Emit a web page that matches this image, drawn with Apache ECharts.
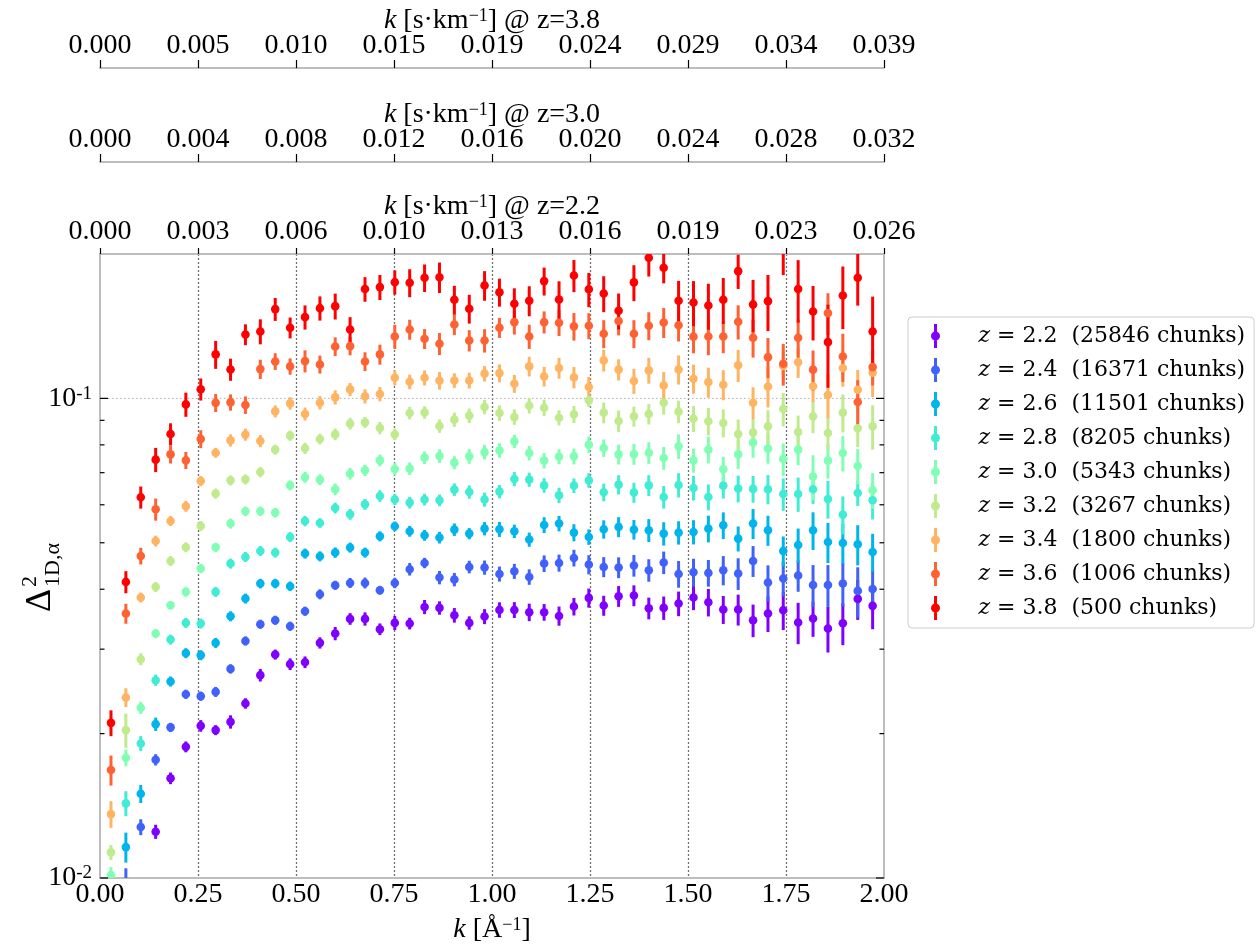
<!DOCTYPE html>
<html>
<head>
<meta charset="utf-8">
<script src="https://cdn.jsdelivr.net/npm/echarts@6/dist/echarts.min.js"></script>
<style>
html,body{margin:0;padding:0;background:#ffffff;}
#chart{width:1256px;height:946px;}
</style>
</head>
<body>
<div id="chart"></div>
<script>
// ---------------- data ----------------
const K = [0.028,0.066,0.104,0.142,0.180,0.219,0.257,0.295,0.333,0.371,0.409,0.447,0.485,0.523,0.561,0.600,0.638,0.676,0.714,0.752,0.790,0.828,0.866,0.904,0.942,0.981,1.019,1.057,1.095,1.133,1.171,1.209,1.247,1.285,1.323,1.362,1.400,1.438,1.476,1.514,1.552,1.590,1.628,1.666,1.704,1.743,1.781,1.819,1.857,1.895,1.933,1.971];

const Z_VALUES = ['2.2','2.4','2.6','2.8','3.0','3.2','3.4','3.6','3.8'];
const CHUNKS = [25846,16371,11501,8205,5343,3267,1800,1006,500];
const COLORS = ['#8000ff','#4062fa','#00b4ec','#40ecd4','#80ffb4','#c0eb8d','#ffb462','#ff6232','#ff0000'];

const P22 = [null,null,null,0.01249,0.01614,0.01877,0.02076,0.02034,0.02116,0.02312,0.02648,0.02924,0.02792,0.02818,0.03092,0.03234,0.03469,0.03469,0.03302,0.03403,0.03393,0.03674,0.03657,0.03531,0.03403,0.03509,0.03622,0.03622,0.03582,0.03582,0.03519,0.03681,0.03837,0.03699,0.03868,0.03881,0.03652,0.03657,0.03735,0.03845,0.03758,0.03629,0.03629,0.03447,0.0356,0.03617,0.0341,0.03475,0.03313,0.03398,0.03819,0.03693];
const E22 = [null,null,null,0.034,0.028,0.026,0.028,0.024,0.032,0.025,0.030,0.024,0.028,0.028,0.027,0.032,0.028,0.032,0.028,0.034,0.028,0.034,0.032,0.035,0.032,0.036,0.037,0.038,0.042,0.040,0.046,0.042,0.046,0.048,0.050,0.050,0.052,0.056,0.059,0.059,0.066,0.067,0.074,0.078,0.085,0.091,0.099,0.084,0.109,0.100,0.096,0.106];

const P24 = [null,0.0097,0.01277,0.01764,0.02061,0.02416,0.02394,0.02444,0.02729,0.03121,0.03382,0.03447,0.0335,0.036,0.03905,0.04077,0.04123,0.04123,0.03981,0.04123,0.04404,0.04538,0.04231,0.0419,0.04452,0.0444,0.04305,0.04361,0.04243,0.04525,0.04538,0.04648,0.04503,0.04452,0.0444,0.04482,0.04383,0.04547,0.04305,0.0434,0.04326,0.04383,0.04313,0.04582,0.0413,0.0421,0.04272,0.04083,0.04083,0.04111,0.03968,0.04006];
const E24 = [null,0.080,0.038,0.027,0.022,0.022,0.022,0.024,0.022,0.022,0.022,0.022,0.022,0.022,0.024,0.022,0.024,0.026,0.021,0.025,0.030,0.025,0.032,0.032,0.030,0.034,0.036,0.036,0.037,0.040,0.041,0.040,0.046,0.048,0.050,0.052,0.054,0.054,0.064,0.067,0.064,0.070,0.076,0.074,0.086,0.082,0.075,0.100,0.100,0.104,0.120,0.096];

const P26 = [null,0.0116,0.01498,0.02093,0.02569,0.02943,0.02915,0.03092,0.03514,0.03826,0.04111,0.04111,0.04058,0.04748,0.04686,0.0477,0.04887,0.0477,0.05158,0.05412,0.05284,0.05183,0.05126,0.05326,0.05225,0.05351,0.05334,0.05284,0.05077,0.05445,0.05483,0.0525,0.0514,0.05334,0.05395,0.05326,0.05309,0.05225,0.0525,0.05266,0.05351,0.05437,0.05101,0.05483,0.05309,0.04807,0.04947,0.05309,0.05018,0.04994,0.04963,0.04784];
const E26 = [null,0.072,0.043,0.032,0.024,0.024,0.024,0.024,0.024,0.024,0.023,0.023,0.023,0.024,0.024,0.025,0.024,0.024,0.024,0.023,0.026,0.026,0.028,0.030,0.027,0.032,0.036,0.032,0.034,0.038,0.037,0.041,0.037,0.044,0.048,0.047,0.055,0.056,0.056,0.058,0.064,0.064,0.060,0.072,0.072,0.072,0.082,0.090,0.096,0.096,0.096,0.091];

const P28 = [null,0.01431,0.01908,0.02585,0.03142,0.03403,0.03393,0.0395,0.04525,0.04671,0.04807,0.0477,0.0514,0.05551,0.05498,0.05908,0.05732,0.06013,0.06259,0.06152,0.06063,0.06152,0.06131,0.06454,0.0638,0.06152,0.06392,0.06789,0.0677,0.06587,0.06279,0.06578,0.06747,0.06371,0.0661,0.06362,0.06587,0.06229,0.06598,0.06505,0.06229,0.06578,0.06486,0.06475,0.06466,0.06318,0.06318,0.06466,0.06169,0.05724,0.06349,0.06131];
const E28 = [null,0.060,0.036,0.027,0.024,0.024,0.024,0.024,0.024,0.024,0.024,0.024,0.024,0.025,0.023,0.026,0.026,0.026,0.028,0.026,0.028,0.028,0.028,0.030,0.032,0.034,0.032,0.034,0.034,0.035,0.037,0.035,0.035,0.042,0.046,0.048,0.050,0.054,0.058,0.059,0.062,0.060,0.064,0.064,0.070,0.078,0.082,0.068,0.090,0.091,0.060,0.088];

const P30 = [0.01014,0.01781,0.02264,0.03234,0.03705,0.0395,0.04418,0.04893,0.05483,0.05815,0.05815,0.05779,0.06587,0.06845,0.0677,0.06464,0.06967,0.07079,0.07427,0.07124,0.07138,0.07524,0.07581,0.07345,0.0757,0.07727,0.0779,0.08136,0.07691,0.07416,0.07559,0.0757,0.08008,0.0788,0.07643,0.07652,0.07702,0.07508,0.07943,0.07427,0.07818,0.07114,0.07643,0.08085,0.07857,0.07472,0.07818,0.06869,0.07416,0.07691,0.07228,0.06433];
const E30 = [0.039,0.040,0.029,0.022,0.020,0.023,0.022,0.022,0.024,0.023,0.023,0.023,0.024,0.026,0.026,0.028,0.028,0.027,0.028,0.030,0.030,0.030,0.033,0.031,0.035,0.035,0.035,0.032,0.035,0.037,0.036,0.038,0.040,0.042,0.048,0.050,0.052,0.055,0.059,0.058,0.064,0.062,0.068,0.070,0.070,0.078,0.072,0.108,0.082,0.085,0.084,0.086];

const P32 = [0.01131,0.02034,0.02859,0.04045,0.04582,0.04893,0.0542,0.06331,0.06747,0.06779,0.07022,0.07818,0.08362,0.07868,0.08227,0.08414,0.08858,0.08913,0.08672,0.08414,0.0932,0.0935,0.08756,0.0903,0.09204,0.09592,0.0932,0.09141,0.09656,0.09563,0.09115,0.09261,0.09904,0.09338,0.0897,0.09171,0.09274,0.09795,0.09382,0.09073,0.08957,0.08885,0.08426,0.08483,0.08745,0.095,0.08508,0.09171,0.08467,0.09338,0.0866,0.08745];
const E32 = [0.036,0.082,0.029,0.024,0.024,0.024,0.024,0.024,0.024,0.024,0.025,0.024,0.025,0.027,0.026,0.028,0.028,0.026,0.030,0.028,0.030,0.030,0.032,0.034,0.035,0.034,0.037,0.037,0.037,0.039,0.036,0.041,0.032,0.050,0.052,0.048,0.049,0.056,0.054,0.062,0.066,0.067,0.072,0.067,0.080,0.080,0.082,0.077,0.077,0.091,0.086,0.106];

const P34 = [0.01359,0.02379,0.03845,0.05042,0.05551,0.05957,0.06724,0.07702,0.08175,0.08404,0.08148,0.09395,0.09763,0.0928,0.09795,0.1005,0.1044,0.101,0.1021,0.1104,0.1083,0.1104,0.1089,0.109,0.109,0.1126,0.1129,0.1073,0.1166,0.1111,0.1157,0.1106,0.1056,0.12,0.1148,0.1087,0.1144,0.1064,0.1149,0.1099,0.1081,0.1068,0.1172,0.09795,0.1059,0.1168,0.1189,0.106,0.1016,0.1157,0.1042,0.1131];
const E34 = [0.064,0.045,0.024,0.026,0.024,0.026,0.024,0.024,0.029,0.029,0.029,0.029,0.030,0.031,0.032,0.034,0.031,0.034,0.034,0.036,0.035,0.036,0.042,0.035,0.038,0.037,0.043,0.043,0.047,0.047,0.050,0.051,0.050,0.052,0.051,0.060,0.062,0.066,0.070,0.070,0.072,0.072,0.077,0.077,0.096,0.077,0.072,0.072,0.106,0.086,0.100,0.110];

const P36 = [0.01679,0.0356,0.04693,0.05871,0.07643,0.07427,0.08227,0.09787,0.09809,0.09687,0.1151,0.1194,0.1166,0.1196,0.1177,0.1283,0.1285,0.1194,0.1235,0.1346,0.1392,0.1331,0.13,0.1426,0.132,0.132,0.1404,0.1442,0.1346,0.1442,0.1438,0.1413,0.1417,0.1364,0.145,0.1364,0.1417,0.144,0.1421,0.1345,0.1346,0.1346,0.1445,0.1338,0.1219,0.1181,0.1338,0.1148,0.1506,0.1223,0.09831,0.1162];
const E36 = [0.072,0.048,0.040,0.053,0.043,0.041,0.043,0.043,0.039,0.042,0.046,0.040,0.039,0.053,0.043,0.045,0.043,0.045,0.048,0.058,0.048,0.048,0.053,0.050,0.051,0.056,0.048,0.058,0.058,0.053,0.062,0.066,0.062,0.067,0.067,0.067,0.067,0.072,0.075,0.077,0.086,0.077,0.082,0.091,0.096,0.100,0.091,0.096,0.100,0.115,0.110,0.084];

const P38 = [0.02106,0.04143,0.0622,0.07452,0.08426,0.09716,0.1045,0.1235,0.1149,0.1359,0.1379,0.1535,0.1404,0.1477,0.1542,0.1557,0.1392,0.169,0.1706,0.1747,0.1742,0.1784,0.1789,0.1606,0.1538,0.172,0.1665,0.1575,0.1598,0.1756,0.1608,0.1804,0.1688,0.1655,0.1523,0.1745,0.1964,0.1872,0.1598,0.1585,0.1562,0.1606,0.1842,0.157,0.1595,0.2054,0.169,0.1518,0.131,0.1639,0.1784,0.1379];
const E38 = [0.062,0.053,0.053,0.058,0.053,0.058,0.053,0.067,0.053,0.050,0.060,0.055,0.050,0.058,0.058,0.062,0.061,0.059,0.060,0.058,0.067,0.066,0.073,0.069,0.069,0.071,0.067,0.077,0.072,0.067,0.091,0.077,0.082,0.086,0.086,0.086,0.086,0.072,0.100,0.108,0.110,0.110,0.082,0.125,0.134,0.120,0.149,0.130,0.197,0.149,0.125,0.182];

const VALUES = [P22,P24,P26,P28,P30,P32,P34,P36,P38];
const ERRORS = [E22,E24,E26,E28,E30,E32,E34,E36,E38];

const X_TICKS = ['0.00','0.25','0.50','0.75','1.00','1.25','1.50','1.75','2.00'];
const TOP_Z22 = ['0.000','0.003','0.006','0.010','0.013','0.016','0.019','0.023','0.026'];
const TOP_Z30 = ['0.000','0.004','0.008','0.012','0.016','0.020','0.024','0.028','0.032'];
const TOP_Z38 = ['0.000','0.005','0.010','0.015','0.019','0.024','0.029','0.034','0.039'];
const Y_MAJOR = [0.01, 0.1];
const Y_MINOR = [0.02,0.03,0.04,0.05,0.06,0.07,0.08,0.09];
const Y_GRID = [0.1];

// ---------------- chart ----------------
const SERIF = 'Liberation Serif';
const LEG_FONT = 'DejaVu Serif';
const chart = echarts.init(document.getElementById('chart'), null, {renderer: 'canvas'});

const names = Z_VALUES.map(z => 'z=' + z);

function pointsOf(i) {
  const out = [];
  K.forEach((k, j) => {
    const v = VALUES[i][j];
    if (v !== null && v !== undefined) out.push([k, v, ERRORS[i][j]]);
  });
  return out;
}

const series = [];
series.push({
  type: 'custom', name: '_hgrid', z: 1, silent: true, clip: true,
  data: Y_GRID.map(v => [0, v]), encode: {x: 0, y: 1},
  renderItem: (params, api) => {
    const cs = params.coordSys;
    const p = api.coord([0, api.value(1)]);
    return {type: 'line', shape: {x1: cs.x, y1: p[1], x2: cs.x + cs.width, y2: p[1]},
      style: {stroke: '#b0b0b0', lineWidth: 1, lineDash: [1.5, 2.5]}};
  }
});
Z_VALUES.forEach((z, i) => {
  const color = COLORS[i];
  series.push({
    type: 'custom', name: names[i], z: 2, clip: true, silent: true,
    itemStyle: {color: color},
    data: pointsOf(i), encode: {x: 0, y: 1},
    renderItem: (params, api) => {
      const cs = params.coordSys;
      const x = api.value(0), y = api.value(1), e = api.value(2);
      const a = api.coord([x, y * (1 + e)]);
      const b = api.coord([x, y * (1 - e)]);
      const y1 = Math.max(a[1], cs.y), y2 = Math.min(b[1], cs.y + cs.height);
      if (y2 <= y1) return null;
      return {type: 'line', shape: {x1: a[0], y1: y1, x2: b[0], y2: y2},
        style: {stroke: color, lineWidth: 3}};
    }
  });
});
Z_VALUES.forEach((z, i) => {
  const color = COLORS[i];
  series.push({
    type: 'custom', name: names[i], z: 3, clip: true, silent: true,
    itemStyle: {color: color},
    data: pointsOf(i), encode: {x: 0, y: 1},
    renderItem: (params, api) => {
      const cs = params.coordSys;
      const p = api.coord([api.value(0), api.value(1)]);
      if (p[1] < cs.y - 5 || p[1] > cs.y + cs.height + 5) return null;
      return {type: 'circle', shape: {cx: p[0], cy: p[1], r: 4.3}, style: {fill: color}};
    }
  });
});
series.push({
  type: 'custom', name: '_yticks', z: 5, silent: true,
  data: Y_MINOR.map(v => [0, v, 4.5]).concat(Y_MAJOR.map(v => [0, v, 8])), encode: {x: 0, y: 1},
  renderItem: (params, api) => {
    const cs = params.coordSys;
    const p = api.coord([0, api.value(1)]);
    const len = api.value(2);
    return {type: 'group', children: [
      {type: 'line', shape: {x1: cs.x, y1: p[1], x2: cs.x + len, y2: p[1]}, style: {stroke: '#000', lineWidth: 1.2}},
      {type: 'line', shape: {x1: cs.x + cs.width - len, y1: p[1], x2: cs.x + cs.width, y2: p[1]}, style: {stroke: '#000', lineWidth: 1.2}}
    ]};
  }
});

const frame = {show: true, onZero: false, lineStyle: {color: '#bdbdbd', width: 2}};
const nameRich = {
  i: {fontFamily: SERIF, fontStyle: 'italic', fontSize: 28, color: '#000'},
  s: {fontFamily: SERIF, fontSize: 18, color: '#000', verticalAlign: 'top'}
};

function topAxis(labels, offset, zText) {
  return {
    type: 'value', gridIndex: 0, position: 'top', offset: offset,
    min: 0, max: 2, interval: 0.25,
    axisLine: frame,
    axisTick: {show: true, inside: false, length: offset === 0 ? 6 : 8, lineStyle: {color: '#000', width: 1.2}},
    axisLabel: {show: true, margin: 8, fontFamily: SERIF, fontSize: 28, color: '#000',
      formatter: (v) => labels[Math.round(v / 0.25)]},
    splitLine: {show: false},
    name: '{i|k} [s·km{s|−1}] @ z=' + zText,
    nameLocation: 'middle', nameGap: 33, nameMoveOverlap: false,
    nameTextStyle: {fontFamily: SERIF, fontSize: 28, color: '#000', rich: nameRich}
  };
}

const option = {
  animation: false,
  backgroundColor: '#ffffff',
  grid: {left: 100, right: 372, top: 254, bottom: 68, containLabel: false, outerBoundsMode: 'none'},
  xAxis: [
    {
      type: 'value', gridIndex: 0, position: 'bottom', min: 0, max: 2, interval: 0.25,
      axisLine: frame,
      axisTick: {show: false},
      axisLabel: {show: true, margin: 3, fontFamily: SERIF, fontSize: 28, color: '#000',
        formatter: (v) => X_TICKS[Math.round(v / 0.25)]},
      splitLine: {show: true, showMinLine: false, showMaxLine: false,
        lineStyle: {color: '#707070', width: 1.3, type: [2, 2]}},
      name: '{i|k} [Å{s|−1}]', nameLocation: 'middle', nameGap: 38, nameMoveOverlap: false,
      nameTextStyle: {fontFamily: SERIF, fontSize: 28, color: '#000', rich: nameRich}
    },
    topAxis(TOP_Z22, 0, '2.2'),
    topAxis(TOP_Z30, 92, '3.0'),
    topAxis(TOP_Z38, 186, '3.8')
  ],
  yAxis: [
    {
      type: 'log', logBase: 10, gridIndex: 0, position: 'left', min: 0.01, max: 0.2,
      axisLine: frame,
      axisTick: {show: false},
      splitLine: {show: false},
      minorTick: {show: false},
      axisLabel: {show: true, margin: 8, fontFamily: SERIF, fontSize: 28, color: '#000',
        formatter: (v) => {
          const l = Math.log10(v);
          if (Math.abs(l - Math.round(l)) < 1e-6) return '{b|10}{s|' + Math.round(l) + '}';
          return '';
        },
        rich: {
          b: {fontFamily: SERIF, fontSize: 28, color: '#000'},
          s: {fontFamily: SERIF, fontSize: 19, color: '#000', verticalAlign: 'top'}
        }
      }
    },
    {
      type: 'log', logBase: 10, gridIndex: 0, position: 'right', min: 0.01, max: 0.2,
      axisLine: frame, axisTick: {show: false}, axisLabel: {show: false}, splitLine: {show: false}
    }
  ],
  legend: {
    show: true, orient: 'vertical', left: 908, top: 317,
    padding: [7, 9, 8, 23], itemWidth: 16, itemHeight: 24, itemGap: 10,
    icon: 'path://M6.5,0 L9.5,0 L9.5,8.5 L6.5,8.5 Z M6.5,15.5 L9.5,15.5 L9.5,24 L6.5,24 Z M3.5,12 A4.5,4.5 0 1 1 12.5,12 A4.5,4.5 0 1 1 3.5,12 Z',
    borderColor: '#cccccc', borderWidth: 1, borderRadius: 4, backgroundColor: '#ffffff',
    selectedMode: false,
    data: names,
    formatter: (name) => {
      const i = names.indexOf(name);
      return '{sp| }{i|z} = ' + Z_VALUES[i] + '  (' + CHUNKS[i] + ' chunks)';
    },
    textStyle: {fontFamily: LEG_FONT, fontSize: 22, color: '#000', lineHeight: 24,
      rich: {
        sp: {width: 30, fontFamily: LEG_FONT, fontSize: 22, lineHeight: 24},
        i: {fontFamily: LEG_FONT, fontStyle: 'italic', fontSize: 22, color: '#000', lineHeight: 24}
      }
    }
  },
  graphic: [
    {
      type: 'group', x: 41, y: 612, rotation: Math.PI / 2,
      children: [
        {type: 'text', x: 0, y: 0, style: {text: 'Δ', font: '36px "Liberation Serif"', fill: '#000',
          textAlign: 'left', textVerticalAlign: 'middle', align: 'left', verticalAlign: 'middle'}},
        {type: 'text', x: 25, y: -11, style: {text: '2', font: '22px "Liberation Serif"', fill: '#000',
          textAlign: 'left', textVerticalAlign: 'middle', align: 'left', verticalAlign: 'middle'}},
        {type: 'text', x: 25, y: 12, style: {text: '1D,α', font: '22px "Liberation Serif"', fill: '#000',
          textAlign: 'left', textVerticalAlign: 'middle', align: 'left', verticalAlign: 'middle'}}
      ]
    }
  ],
  series: series
};

chart.setOption(option);
</script>
</body>
</html>
